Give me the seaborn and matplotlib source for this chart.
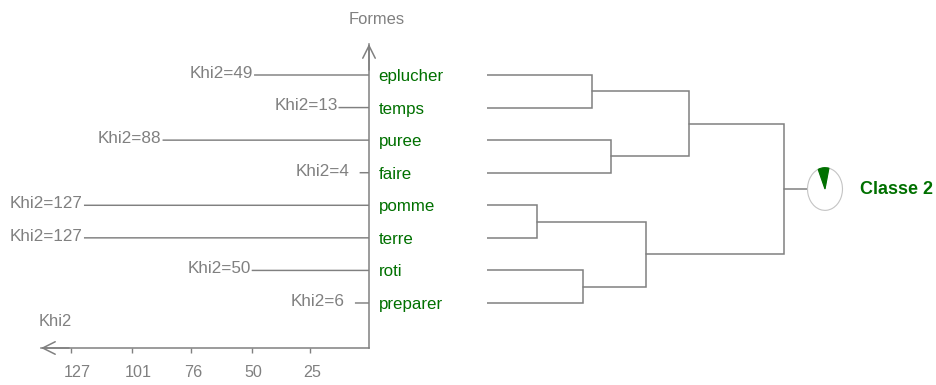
import numpy as np
import matplotlib
matplotlib.use("Agg")
import matplotlib.pyplot as plt
from matplotlib.transforms import ScaledTranslation
import seaborn as sns

formes = ["eplucher", "temps", "puree", "faire", "pomme", "terre", "roti", "preparer"]
khi2 = [49, 13, 88, 4, 127, 127, 50, 6]
tick_values = [127, 101, 76, 50, 25]
# the longest bars stop short of their value in the original, to leave room for the label
bar_cap = 121.5

# dendrogram, nodes 0-7 are the leaves, merges get numbers from 8 up
merge_pairs = [(0, 1), (2, 3), (4, 5), (6, 7), (8, 9), (10, 11), (12, 13)]
merge_heights = [105, 124, 50, 96, 202, 159, 297]
root_stem = 320

classe_share = [10, 90]

GREY = "#808080"
GREEN = "#007000"
W, H = 936, 385
TOP_ROW, ROW = 75, 32.57

sns.set_style("white")
plt.rcParams["font.family"] = ["Liberation Sans", "DejaVu Sans"]

fig = plt.figure(figsize=(W / 100, H / 100), dpi=100)


def px_axes(x0, y0, x1, y1):
    # axes placed with picture pixels, y going down
    return fig.add_axes([x0 / W, 1 - y1 / H, (x1 - x0) / W, (y1 - y0) / H])


def row_y(py):
    return (py - TOP_ROW) / ROW


bars = np.minimum(khi2, bar_cap)

ax = px_axes(0, 0, 369, H)
ax.patch.set_alpha(0)
sns.barplot(x=bars, y=formes, orient="h", color=GREY, saturation=1, width=0.045, linewidth=0, ax=ax)
for p in ax.patches:
    p.set_snap(False)
ax.set_xlim(369 / 2.346, 0)
ax.set_ylim(row_y(H), row_y(0))
ax.set_xlabel("")
ax.set_ylabel("")

base = row_y(348)
for side in ["top", "left"]:
    ax.spines[side].set_visible(False)
ax.spines["bottom"].set_position(("data", base))
ax.spines["bottom"].set_bounds(0, 328 / 2.346)
ax.spines["right"].set_bounds(row_y(44), base)
for side in ["bottom", "right"]:
    ax.spines[side].set_color(GREY)
    ax.spines[side].set_linewidth(1.1)

ax.yaxis.tick_right()
ax.tick_params(axis="y", length=0, pad=7, labelsize=12.2, labelcolor=GREEN)
ax.set_xticks(tick_values)
ax.set_xticklabels(tick_values)
ax.tick_params(axis="x", bottom=True, length=3.6, width=1, color=GREY, pad=8.5, labelsize=11.6, labelcolor=GREY)
shift = ScaledTranslation(-7 / 100, 0, fig.dpi_scale_trans)
for lab in ax.get_xticklabels():
    lab.set_ha("left")
    lab.set_transform(lab.get_transform() + shift)

arrow = dict(arrowstyle="->,head_length=0.9,head_width=0.45", color=GREY, lw=1.1, shrinkA=0, shrinkB=0, mutation_scale=10)
ax.annotate("", xy=(0, row_y(44)), xytext=(0, row_y(70)), arrowprops=arrow, annotation_clip=False)
ax.annotate("", xy=(328 / 2.346, base), xytext=(300 / 2.346, base), arrowprops=arrow)

for i, (v, b) in enumerate(zip(khi2, bars)):
    gap = 10 if v < 10 else 1
    ax.annotate(f"Khi2={v}", xy=(b, i), xytext=(-gap * 0.72, 1.2), textcoords="offset points",
                ha="right", va="center", fontsize=12.3, color=GREY)

# dendrogram
dax = px_axes(487, 0, W, H)
dax.axis("off")
dax.set_xlim(0, W - 487)
dax.set_ylim(row_y(H), row_y(0))
node_x = {i: 0 for i in range(len(formes))}
node_y = {i: i for i in range(len(formes))}
for n, ((a, b), h) in enumerate(zip(merge_pairs, merge_heights)):
    dax.plot([node_x[a], h, h, node_x[b]], [node_y[a], node_y[a], node_y[b], node_y[b]],
             color=GREY, lw=1.1, solid_joinstyle="miter")
    node_x[n + len(formes)] = h
    node_y[n + len(formes)] = (node_y[a] + node_y[b]) / 2
root = len(formes) + len(merge_pairs) - 1
dax.plot([node_x[root], root_stem], [node_y[root], node_y[root]], color=GREY, lw=1.1)

# small pie of the class
pax = px_axes(807, 167, 843, 211)
wedges, _ = pax.pie(classe_share, startangle=77, counterclock=True, radius=1,
                    colors=[GREEN, "white"], wedgeprops=dict(linewidth=0.8))
wedges[0].set_edgecolor(GREEN)
wedges[0].set_zorder(3)
wedges[1].set_edgecolor("#c4c4c4")
pax.set_aspect("auto")
pax.set_xlim(-1.03, 1.03)
pax.set_ylim(-1.03, 1.03)

fig.text(377 / W, 1 - 19 / H, "Formes", ha="center", va="center", fontsize=11.9, color=GREY)
fig.text(39 / W, 1 - 322 / H, "Khi2", ha="left", va="center", fontsize=11.9, color=GREY)
fig.text(860 / W, 1 - 190 / H, "Classe 2", ha="left", va="center", fontsize=13, fontweight="bold", color=GREEN)

fig.savefig("out.png", dpi=100)
